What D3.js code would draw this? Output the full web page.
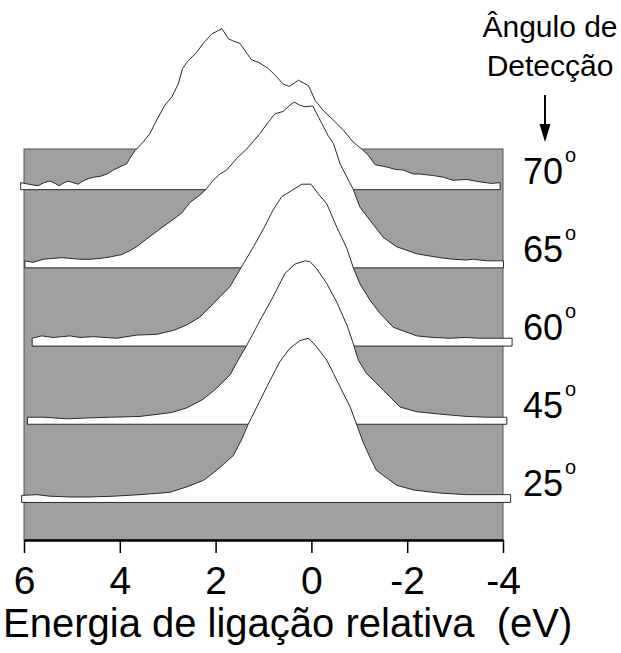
<!DOCTYPE html>
<html>
<head>
<meta charset="utf-8">
<script src="https://cdn.jsdelivr.net/npm/d3@7"></script>
<style>
  html, body { margin: 0; padding: 0; background: #fff; }
  svg { display: block; font-family: Arial, "Liberation Sans", Helvetica, sans-serif; }
</style>
</head>
<body>
<svg id="chart" width="621" height="653"></svg>
<script>
// Photoemission spectra at several detection angles, stacked with a
// constant vertical offset. Each spectrum: [binding energy (eV), intensity (a.u.)].
const angles = ["70", "65", "60", "45", "25"];
const offsets = [4, 3, 2, 1, 0];

const spectrum70 = [
  [6.07,0.09],[5.90,0.07],[5.71,0.05],[5.58,0.09],[5.46,0.11],[5.35,0.08],[5.27,0.05],
  [5.19,0.08],[5.08,0.11],[4.98,0.09],[4.87,0.07],[4.77,0.11],[4.66,0.14],[4.54,0.16],
  [4.41,0.17],[4.27,0.20],[4.14,0.25],[4.00,0.29],[3.86,0.33],[3.79,0.40],[3.68,0.50],
  [3.51,0.61],[3.37,0.72],[3.23,0.89],[3.06,1.08],[2.92,1.18],[2.78,1.35],[2.69,1.55],
  [2.57,1.65],[2.39,1.76],[2.26,1.87],[2.08,1.99],[1.87,2.06],[1.73,1.93],[1.63,1.90],
  [1.49,1.87],[1.39,1.78],[1.25,1.66],[1.11,1.63],[0.90,1.55],[0.72,1.44],[0.59,1.35],
  [0.46,1.32],[0.27,1.40],[0.06,1.33],[-0.08,1.14],[-0.25,1.01],[-0.46,0.89],[-0.67,0.76],
  [-0.87,0.61],[-1.05,0.52],[-1.19,0.44],[-1.33,0.32],[-1.57,0.29],[-1.75,0.26],[-1.92,0.25],
  [-2.13,0.20],[-2.27,0.20],[-2.55,0.18],[-2.75,0.16],[-2.96,0.12],[-3.24,0.13],[-3.52,0.10],
  [-3.76,0.08],[-3.94,0.09]
];

const spectrum65 = [
  [5.98,0.09],[5.81,0.07],[5.60,0.11],[5.42,0.12],[5.21,0.13],[5.00,0.12],[4.83,0.11],
  [4.62,0.11],[4.41,0.12],[4.20,0.14],[3.96,0.17],[3.79,0.22],[3.65,0.27],[3.44,0.37],
  [3.20,0.48],[2.95,0.59],[2.71,0.70],[2.53,0.84],[2.33,0.93],[2.22,0.99],[2.05,1.12],
  [1.91,1.20],[1.77,1.25],[1.56,1.40],[1.35,1.52],[1.07,1.72],[0.93,1.84],[0.76,1.97],
  [0.59,2.00],[0.45,2.08],[0.36,2.12],[0.24,2.08],[0.13,2.06],[-0.03,2.07],[-0.18,1.89],
  [-0.35,1.69],[-0.46,1.59],[-0.60,1.33],[-0.74,1.16],[-0.87,1.01],[-1.01,0.78],[-1.22,0.61],
  [-1.50,0.39],[-1.78,0.27],[-2.20,0.18],[-2.68,0.13],[-2.96,0.11],[-3.24,0.10],[-3.37,0.11],
  [-3.66,0.09],[-4.01,0.09]
];

const spectrum60 = [
  [5.83,0.10],[5.63,0.13],[5.39,0.11],[5.21,0.12],[5.04,0.13],[4.83,0.11],[4.55,0.12],
  [4.31,0.11],[4.06,0.10],[3.65,0.14],[3.23,0.15],[2.88,0.20],[2.60,0.27],[2.33,0.37],
  [2.05,0.54],[1.91,0.63],[1.70,0.76],[1.46,1.01],[1.21,1.27],[1.00,1.50],[0.80,1.74],
  [0.62,1.91],[0.41,1.99],[0.20,2.07],[0.01,2.07],[-0.14,1.95],[-0.32,1.82],[-0.53,1.52],
  [-0.74,1.25],[-0.87,1.01],[-1.01,0.80],[-1.22,0.59],[-1.43,0.42],[-1.71,0.24],[-2.20,0.13],
  [-2.54,0.11],[-2.89,0.10],[-3.21,0.11],[-3.52,0.10],[-3.94,0.10],[-4.19,0.10]
];

const spectrum45 = [
  [5.93,0.09],[5.60,0.09],[5.35,0.08],[5.11,0.07],[4.69,0.08],[4.20,0.09],[3.58,0.10],
  [2.92,0.15],[2.60,0.21],[2.26,0.32],[1.98,0.46],[1.70,0.63],[1.53,0.82],[1.35,1.01],
  [1.07,1.33],[0.80,1.63],[0.55,1.93],[0.34,2.05],[0.13,2.09],[0.03,2.08],[-0.11,1.99],
  [-0.32,1.80],[-0.53,1.56],[-0.74,1.27],[-0.87,1.04],[-0.98,0.82],[-1.15,0.65],[-1.43,0.48],
  [-1.64,0.35],[-1.85,0.22],[-2.20,0.16],[-2.68,0.13],[-3.24,0.10],[-3.66,0.09],[-4.08,0.09]
];

const spectrum25 = [
  [6.05,0.09],[5.73,0.10],[5.46,0.08],[5.04,0.07],[4.62,0.07],[4.14,0.08],[3.58,0.10],
  [2.95,0.13],[2.60,0.20],[2.26,0.28],[1.98,0.41],[1.63,0.60],[1.46,0.80],[1.32,1.00],
  [1.14,1.22],[0.93,1.48],[0.66,1.80],[0.45,1.97],[0.24,2.07],[0.06,2.10],[-0.11,1.99],
  [-0.32,1.82],[-0.46,1.65],[-0.63,1.44],[-0.81,1.22],[-0.95,0.99],[-1.08,0.77],[-1.22,0.58],
  [-1.36,0.41],[-1.78,0.22],[-2.13,0.16],[-2.68,0.12],[-3.24,0.10],[-3.66,0.10],[-4.16,0.10]
];

const spectra = [spectrum70, spectrum65, spectrum60, spectrum45, spectrum25];

const xTicks = [6, 4, 2, 0, -2, -4];
const xTitle = "Energia de ligação relativa  (eV)";
const headerLines = ["Ângulo de", "Detecção"];

// ---- layout ----
const svg = d3.select("#chart");
const plot = { left: 24, right: 503, top: 149, bottom: 540 };

const x = d3.scaleLinear().domain([6, -4]).range([plot.left, plot.right]);
const y = d3.scaleLinear().domain([-0.48, 4.52]).range([plot.bottom, plot.top]);

// grey panel behind the spectra
svg.append("rect")
  .attr("x", plot.left).attr("y", plot.top)
  .attr("width", plot.right - plot.left).attr("height", plot.bottom - plot.top)
  .attr("fill", "#a0a0a0")
  .attr("stroke", "#555").attr("stroke-width", 1);

// each spectrum is a closed white shape: the curve plus a drop to its own baseline
const line = d3.line().x(d => d[0]).y(d => d[1]);
spectra.forEach((s, i) => {
  const off = offsets[i];
  const pts = s.map(d => [x(d[0]), y(off + d[1])]);
  pts.push([x(s[s.length - 1][0]), y(off)]);
  pts.push([x(s[0][0]), y(off)]);
  svg.append("path")
    .attr("d", line(pts) + "Z")
    .attr("fill", "#fff")
    .attr("stroke", "#2a2a2a")
    .attr("stroke-width", 1)
    .attr("stroke-linejoin", "round");
});

// angle labels at the right of every spectrum
angles.forEach((a, i) => {
  const t = svg.append("text")
    .attr("x", 523)
    .attr("y", y(offsets[i]) - 6)
    .attr("font-size", 36)
    .attr("fill", "#000");
  t.append("tspan").text(a);
  t.append("tspan").attr("font-size", 20).attr("dx", 2).attr("dy", -22).text("o");
});

// header with arrow
headerLines.forEach((h, i) => {
  svg.append("text")
    .attr("x", 550).attr("y", 37 + i * 39)
    .attr("text-anchor", "middle")
    .attr("font-size", 30)
    .attr("fill", "#000")
    .text(h);
});
svg.append("line")
  .attr("x1", 545).attr("x2", 545).attr("y1", 95).attr("y2", 128)
  .attr("stroke", "#000").attr("stroke-width", 2);
svg.append("path")
  .attr("d", "M539.5,124 L550.5,124 L545,142 Z")
  .attr("fill", "#000");

// bottom axis
const axis = d3.axisBottom(x)
  .tickValues(xTicks)
  .tickFormat(d => String(d))
  .tickSize(13)
  .tickSizeOuter(0)
  .tickPadding(13);

const gx = svg.append("g")
  .attr("transform", `translate(0,${plot.bottom})`)
  .call(axis);
gx.select(".domain").attr("stroke", "#000").attr("stroke-width", 2.5);
gx.selectAll(".tick line").attr("stroke", "#000").attr("stroke-width", 1.5);
gx.selectAll(".tick text")
  .attr("font-size", 39)
  .attr("font-family", "Arial, 'Liberation Sans', sans-serif")
  .attr("fill", "#000");

svg.append("text")
  .attr("x", 3).attr("y", 637)
  .attr("font-size", 40)
  .attr("fill", "#000")
  .style("white-space", "pre")
  .text(xTitle);
</script>
</body>
</html>
